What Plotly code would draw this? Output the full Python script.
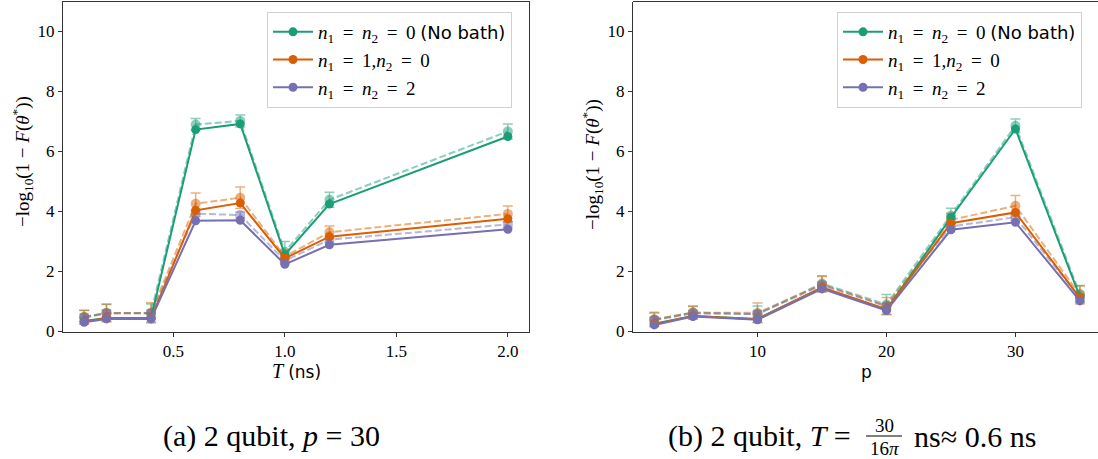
import plotly.graph_objects as go

# ---------------- data ----------------
T_ns = [0.1, 0.2, 0.4, 0.6, 0.8, 1.0, 1.2, 2.0]
p_vals = [2, 5, 10, 15, 20, 25, 30, 35]

EQ = "\u2009=\u2009 "
series_names = [
    "<i>n</i><sub>1</sub> " + EQ + "<i>n</i><sub>2</sub> " + EQ
    + "0 <span style='font-family:DejaVu Sans;font-size:18px'>(No bath)</span>",
    "<i>n</i><sub>1</sub> " + EQ + "1,<i>n</i><sub>2</sub> " + EQ + "0",
    "<i>n</i><sub>1</sub> " + EQ + "<i>n</i><sub>2</sub> " + EQ + "2",
]

# panel (a): vs T
a_solid_nobath = [0.35, 0.45, 0.45, 6.73, 6.92, 2.56, 4.25, 6.50]
a_solid_n1 = [0.33, 0.44, 0.44, 4.04, 4.28, 2.44, 3.16, 3.76]
a_solid_n2 = [0.31, 0.42, 0.42, 3.69, 3.71, 2.24, 2.89, 3.41]
a_dash_nobath = [0.48, 0.62, 0.62, 6.90, 7.02, 2.66, 4.39, 6.67]
a_dash_n1 = [0.48, 0.62, 0.62, 4.26, 4.46, 2.50, 3.31, 3.92]
a_dash_n2 = [0.46, 0.60, 0.60, 3.93, 3.88, 2.36, 3.06, 3.57]
a_err_nobath = [0.22, 0.28, 0.30, 0.20, 0.20, 0.34, 0.25, 0.25]
a_err_n1 = [0.23, 0.30, 0.34, 0.36, 0.36, 0.20, 0.21, 0.26]
a_err_n2 = [0.12, 0.12, 0.12, 0.10, 0.10, 0.10, 0.10, 0.10]

# panel (b): vs p
b_solid_nobath = [0.26, 0.52, 0.42, 1.46, 0.73, 3.80, 6.75, 1.15]
b_solid_n1 = [0.24, 0.52, 0.41, 1.46, 0.74, 3.61, 3.97, 1.12]
b_solid_n2 = [0.22, 0.50, 0.39, 1.42, 0.70, 3.39, 3.64, 1.02]
b_dash_nobath = [0.40, 0.63, 0.58, 1.60, 0.90, 3.86, 6.86, 1.25]
b_dash_n1 = [0.40, 0.63, 0.62, 1.57, 0.85, 3.72, 4.19, 1.22]
b_dash_n2 = [0.38, 0.60, 0.58, 1.54, 0.84, 3.50, 3.81, 1.12]
b_err_nobath = [0.22, 0.22, 0.27, 0.26, 0.33, 0.25, 0.22, 0.28]
b_err_n1 = [0.24, 0.20, 0.33, 0.26, 0.28, 0.22, 0.34, 0.30]
b_err_n2 = [0.10, 0.10, 0.10, 0.10, 0.10, 0.10, 0.10, 0.10]

colors = ["#1b9e77", "#d95f02", "#7570b3"]
faded = ["rgba(27,158,119,0.5)", "rgba(217,95,2,0.5)", "rgba(117,112,179,0.5)"]

fig = go.Figure()

SERIF = "Liberation Serif"
SANS = "DejaVu Sans"


def add_panel(x, solids, dashes, errs, xa, ya, legend):
    for i in range(3):
        fig.add_trace(go.Scatter(
            x=x, y=dashes[i], mode="lines+markers", xaxis=xa, yaxis=ya,
            line=dict(color=faded[i], width=2, dash="7px,3px"),
            marker=dict(color=faded[i], size=10),
            error_y=dict(type="data", array=errs[i], color=faded[i], thickness=1.5, width=5),
            showlegend=False, hoverinfo="skip"))
    for i in range(3):
        fig.add_trace(go.Scatter(
            x=x, y=solids[i], mode="lines+markers", xaxis=xa, yaxis=ya,
            line=dict(color=colors[i], width=2),
            marker=dict(color=colors[i], size=9),
            name=series_names[i], showlegend=True, legend=legend))


add_panel(T_ns, [a_solid_nobath, a_solid_n1, a_solid_n2],
          [a_dash_nobath, a_dash_n1, a_dash_n2],
          [a_err_nobath, a_err_n1, a_err_n2], "x", "y", "legend")
add_panel(p_vals, [b_solid_nobath, b_solid_n1, b_solid_n2],
          [b_dash_nobath, b_dash_n1, b_dash_n2],
          [b_err_nobath, b_err_n1, b_err_n2], "x2", "y2", "legend2")

ydom = [(459 - 331.5) / 459, (459 - 1.5) / 459]
xdom1 = [63 / 1098, 529 / 1098]
xdom2 = [633 / 1098, 1.0]

axis_common = dict(showgrid=False, zeroline=False, showline=True, linecolor="#333",
                   linewidth=1.2, ticks="outside", ticklen=4, tickcolor="#333",
                   automargin=False,
                   tickfont=dict(family=SERIF, size=17, color="black"))

legend_common = dict(bgcolor="white", bordercolor="#d0d0d0", borderwidth=1,
                     font=dict(family=SERIF, size=19, color="black"),
                     xanchor="left", yanchor="top", tracegroupgap=0, itemwidth=40)

fig.update_layout(
    width=1098, height=459, autosize=False,
    margin=dict(l=0, r=0, t=0, b=0, autoexpand=False),
    paper_bgcolor="white", plot_bgcolor="white",
    xaxis=dict(domain=xdom1, range=[0.005, 2.095], tickvals=[0.5, 1.0, 1.5, 2.0],
               ticktext=["0.5", "1.0", "1.5", "2.0"], mirror=True, anchor="y", **axis_common),
    yaxis=dict(domain=ydom, range=[0, 11], tickvals=[0, 2, 4, 6, 8, 10], mirror=True,
               anchor="x", **axis_common),
    xaxis2=dict(domain=xdom2, range=[0.35, 36.4], tickvals=[10, 20, 30], anchor="y2",
                **axis_common),
    yaxis2=dict(domain=ydom, range=[0, 11], tickvals=[0, 2, 4, 6, 8, 10], anchor="x2",
                **axis_common),
    legend=dict(x=267 / 1098, y=1 - 12 / 459, **legend_common),
    legend2=dict(x=837 / 1098, y=1 - 12 / 459, **legend_common),
    showlegend=True,
)

# top border for right panel (right edge is cut off in the reference)
fig.add_shape(type="line", xref="paper", yref="paper", x0=xdom2[0], x1=1.0,
              y0=ydom[1], y1=ydom[1], line=dict(color="#333", width=1.2))

ytitle = "\u2212log<sub>10</sub>(1 \u2212 <i>F</i>(<i>\u03b8</i><sup>*</sup>))"
annos = [
    dict(x=22 / 1098, y=1 - 162 / 459, text=ytitle, textangle=-90,
         font=dict(family=SERIF, size=19, color="black")),
    dict(x=592 / 1098, y=1 - 165 / 459, text=ytitle, textangle=-90,
         font=dict(family=SERIF, size=19, color="black")),
    dict(x=296 / 1098, y=1 - 371 / 459,
         text="<i>T</i> <span style='font-family:DejaVu Sans;font-size:17px'>(ns)</span>",
         font=dict(family=SERIF, size=20, color="black")),
    dict(x=866 / 1098, y=1 - 372 / 459, text="p",
         font=dict(family=SANS, size=17, color="black")),
    dict(x=271 / 1098, y=1 - 436 / 459, text="(a) 2 qubit, <i>p</i> = 30",
         font=dict(family=SERIF, size=30, color="black")),
    dict(x=860 / 1098, y=1 - 436 / 459, text="(b) 2 qubit, <i>T</i> = ", xanchor="right",
         font=dict(family=SERIF, size=30, color="black")),
    dict(x=884 / 1098, y=1 - 425 / 459, text="30",
         font=dict(family=SERIF, size=19, color="black")),
    dict(x=884 / 1098, y=1 - 448 / 459, text="16<i>\u03c0</i>",
         font=dict(family=SERIF, size=19, color="black")),
    dict(x=912 / 1098, y=1 - 436 / 459, text="ns\u2248 0.6 ns", xanchor="left",
         font=dict(family=SERIF, size=30, color="black")),
]
for a in annos:
    a.setdefault("xanchor", "center")
    fig.add_annotation(xref="paper", yref="paper", showarrow=False, yanchor="middle", **a)

fig.add_shape(type="line", xref="paper", yref="paper", x0=866 / 1098, x1=902 / 1098,
              y0=1 - 436 / 459, y1=1 - 436 / 459, line=dict(color="black", width=1))

fig.write_html("out.html")
